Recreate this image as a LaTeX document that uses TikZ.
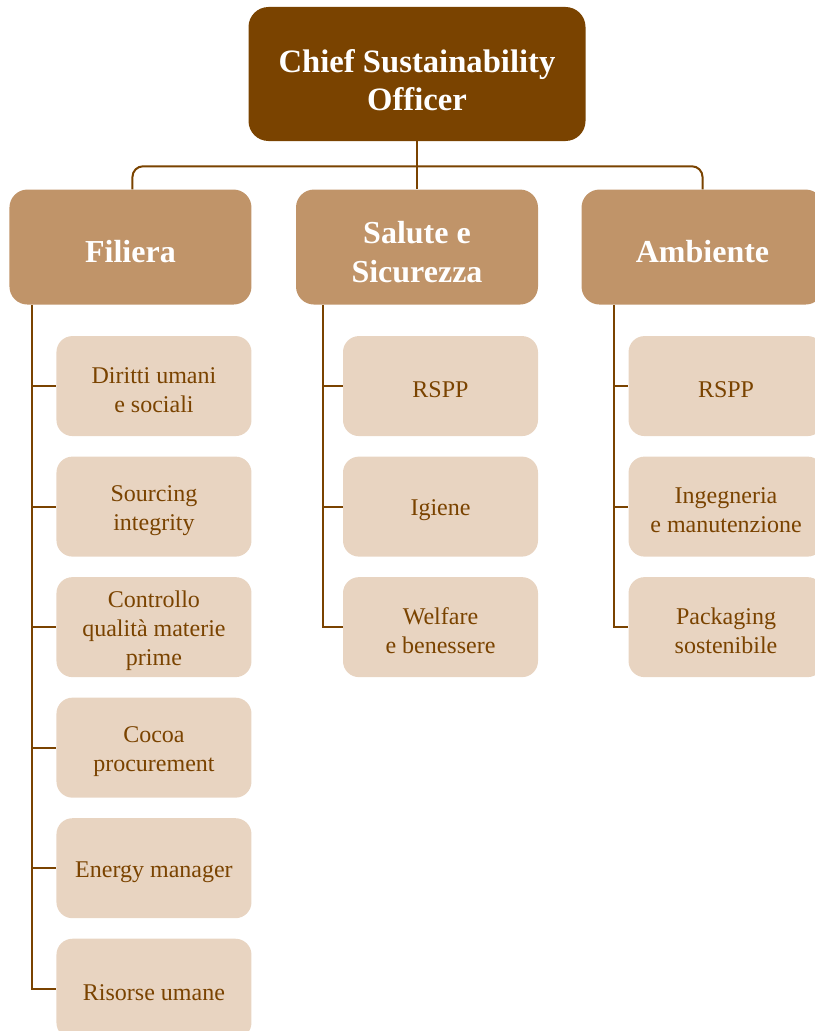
\documentclass[tikz,border=0pt]{standalone}
\usepackage{fontspec}
\setmainfont{Liberation Serif}
\usetikzlibrary{positioning}
\definecolor{darkbrown}{HTML}{7A4300}
\definecolor{midbrown}{HTML}{C09469}
\definecolor{lightbrown}{HTML}{E8D4C1}
\tikzset{sink/.style={execute at begin node={\vbox\bgroup\kern#1\hbox\bgroup},execute at end node={\egroup\egroup}}}
\tikzset{chief/.style={rectangle,rounded corners=15pt,fill=darkbrown,text=white,font=\fontsize{24.5}{28.5}\selectfont\bfseries,align=center,minimum width=252.75pt,minimum height=100.5pt,sink=9pt}}
\tikzset{area/.style={rectangle,rounded corners=13.5pt,fill=midbrown,text=white,font=\fontsize{24}{29}\selectfont\bfseries,align=center,minimum width=181.5pt,minimum height=86.25pt,sink=7.5pt}}
\tikzset{role/.style={rectangle,rounded corners=12pt,fill=lightbrown,text=darkbrown,font=\fontsize{18}{21.75}\selectfont,align=center,minimum width=146.25pt,minimum height=75pt,sink=6pt}}
\tikzset{link/.style={draw=darkbrown,line width=1.5pt}}

\begin{document}
\begin{tikzpicture}
\useasboundingbox (0,0) rectangle (610.5pt,-773.25pt);
\begin{scope}[node distance=15pt]
	\node (cso) [chief] at (312.75pt,-55.5pt) {Chief Sustainability\\Officer} ;
	\node (sal) [area, below=36pt of cso] {Salute e\\Sicurezza} ;
	\node (fil) [area, left=33pt of sal] {Filiera} ;
	\node (amb) [area, right=32.25pt of sal] {Ambiente} ;
	% Filiera
	\node (diritti) [role, below left=23.25pt and 0pt of fil.south east] {Diritti umani\\e sociali} ;
	\node (sourcing) [role, below =of diritti] {Sourcing\\integrity} ;
	\node (controllo) [role, below =of sourcing] {Controllo\\qualità materie\\prime} ;
	\node (cocoa) [role, below =of controllo] {Cocoa\\procurement} ;
	\node (energy) [role, below =of cocoa] {Energy manager} ;
	\node (risorse) [role, below =of energy] {Risorse umane} ;
	% Salute e Sicurezza
	\node (rsppsal) [role, below left=23.25pt and 0pt of sal.south east] {RSPP} ;
	\node (igiene) [role, below =of rsppsal] {Igiene} ;
	\node (welfare) [role, below =of igiene] {Welfare\\e benessere} ;
	% Ambiente
	\node (rsppamb) [role, below left=23.25pt and 0pt of amb.south east] {RSPP} ;
	\node (ingegneria) [role, below =of rsppamb] {Ingegneria\\e manutenzione} ;
	\node (packaging) [role, below =of ingegneria] {Packaging\\sostenibile} ;
\end{scope}
% connectors
\draw [link] (cso.south) -- (sal.north);
\draw [link, rounded corners=8pt] (cso.south) ++(0,-18.75pt) coordinate (bar) -| ([xshift=1.5pt]fil.north);
\draw [link, rounded corners=8pt] (bar) -| (amb.north);
\coordinate (filspine) at ([xshift=17.25pt]fil.south west);
\coordinate (salspine) at ([xshift=20.25pt]sal.south west);
\coordinate (ambspine) at ([xshift=24.75pt]amb.south west);
\draw [link] (filspine) |- (risorse.west);
\draw [link] (salspine) |- (welfare.west);
\draw [link] (ambspine) |- (packaging.west);
\foreach \n in {diritti,sourcing,controllo,cocoa,energy}
	\draw [link] (filspine |- \n.west) -- (\n.west);
\foreach \n in {rsppsal,igiene}
	\draw [link] (salspine |- \n.west) -- (\n.west);
\foreach \n in {rsppamb,ingegneria}
	\draw [link] (ambspine |- \n.west) -- (\n.west);
\end{tikzpicture}
\end{document}
